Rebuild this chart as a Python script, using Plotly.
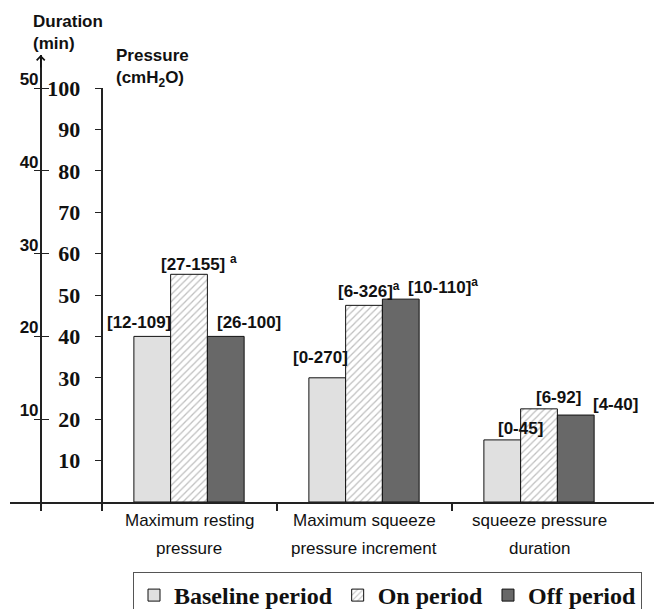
import plotly.graph_objects as go

# ---------------- data ----------------
cat_line1 = ["Maximum resting", "Maximum squeeze", "squeeze pressure"]
cat_line2 = ["pressure", "pressure increment", "duration"]
series_names = ["Baseline period", "On period", "Off period"]
baseline = [40, 30, 15]
on_period = [55, 47.5, 22.5]
off_period = [40, 49, 21]
baseline_ranges = ["[12-109]", "[0-270]", "[0-45]"]
on_ranges = ["[27-155] <sup>a</sup>", "[6-326]<sup>a</sup>", "[6-92]"]
off_ranges = ["[26-100]", "[10-110]<sup>a</sup>", "[4-40]"]
pressure_ticks = [10, 20, 30, 40, 50, 60, 70, 80, 90, 100]
duration_ticks = [10, 20, 30, 40, 50]

# ---------------- geometry / style ----------------
W, H = 654, 609
ML, MR, MT, MB = 10, 0, 55, 107
PW, PH = W - ML - MR, H - MT - MB
CAT0_PX, CAT_STEP = 189.0, 175.0
XR = [(ML - CAT0_PX) / CAT_STEP, (W - MR - CAT0_PX) / CAT_STEP]
DUR_X = (40.7 - CAT0_PX) / CAT_STEP
PRES_X = -0.5
PRES_H = 414.0
DUR_TOP = 50 * PH / PRES_H


def xpaper(v):
    return (v - XR[0]) / (XR[1] - XR[0])


BARGAP = 0.37
BW = (1 - BARGAP) / 3
SANS = "Liberation Sans, Arial, sans-serif"
SERIF = "Liberation Serif, Times New Roman, serif"
x_idx = list(range(len(cat_line1)))

fig = go.Figure()
fig.add_trace(go.Bar(name=series_names[0], x=x_idx, y=baseline, yaxis="y2",
                     marker=dict(color="#e0e0e0", line=dict(color="#111", width=1))))
fig.add_trace(go.Bar(name=series_names[1], x=x_idx, y=on_period, yaxis="y2",
                     marker=dict(color="white", line=dict(color="#111", width=1),
                                 pattern=dict(shape="/", fgcolor="#808080", bgcolor="white",
                                              size=5, solidity=0.25))))
fig.add_trace(go.Bar(name=series_names[2], x=x_idx, y=off_period, yaxis="y2",
                     marker=dict(color="#686868", line=dict(color="#111", width=1))))
# invisible carriers so the duration axes are drawn
fig.add_trace(go.Scatter(x=[DUR_X], y=[0], yaxis="y", mode="markers",
                         marker=dict(opacity=0, size=1), showlegend=False, hoverinfo="skip"))
fig.add_trace(go.Scatter(x=[DUR_X], y=[0], yaxis="y3", mode="markers",
                         marker=dict(opacity=0, size=1), showlegend=False, hoverinfo="skip"))

annotations = []
# bar range labels
label_sets = [baseline_ranges, on_ranges, off_ranges]
value_sets = [baseline, on_period, off_period]
xshifts = [[-13, -7, 18], [10, 5, 19], [23, 42, 40]]
yshifts = [[14, 20, 11], [11, 15, 11], [14, 13, 11]]
for s in range(3):
    for i in x_idx:
        annotations.append(dict(
            x=i + (s - 1) * BW, y=value_sets[s][i], xref="x", yref="y2",
            text=label_sets[s][i], showarrow=False, yanchor="middle",
            xshift=xshifts[s][i], yshift=yshifts[s][i],
            font=dict(family=SANS, size=17, color="#111", weight="bold")))
# category labels
for i in x_idx:
    annotations.append(dict(x=i, y=0, xref="x", yref="paper", text=cat_line1[i],
                            showarrow=False, yanchor="middle", yshift=-18,
                            font=dict(family=SANS, size=17, color="#111")))
    annotations.append(dict(x=i, y=0, xref="x", yref="paper", text=cat_line2[i],
                            showarrow=False, yanchor="middle", yshift=-46,
                            font=dict(family=SANS, size=17, color="#111")))
# axis titles
annotations.append(dict(x=(31 - ML) / PW, y=1, xref="paper", yref="paper",
                        text="Duration<br>(min)", showarrow=False, xanchor="left",
                        yanchor="top", yshift=MT - 10, align="left",
                        font=dict(family=SANS, size=17, color="#111", weight="bold")))
annotations.append(dict(x=(114 - ML) / PW, y=1, xref="paper", yref="paper",
                        text="Pressure<br>(cmH<sub>2</sub>O)", showarrow=False,
                        xanchor="left", yanchor="top", yshift=11, align="left",
                        font=dict(family=SANS, size=17, color="#111", weight="bold")))
# arrow on duration axis
annotations.append(dict(x=DUR_X, y=1, xref="x", yref="paper", text="", showarrow=True,
                        ax=0, ay=14, arrowhead=4, arrowsize=1.2, arrowwidth=1.3,
                        arrowcolor="#111", standoff=0))

fig.update_layout(
    width=W, height=H, margin=dict(l=ML, r=MR, t=MT, b=MB, autoexpand=False),
    paper_bgcolor="white", plot_bgcolor="rgba(0,0,0,0)",
    barmode="group", bargap=BARGAP, bargroupgap=0,
    showlegend=True,
    legend=dict(orientation="h", x=(133 - ML) / PW, y=(-(572 - (H - MB)) / PH),
                xanchor="left", yanchor="top", bgcolor="white", bordercolor="#555",
                borderwidth=1, font=dict(family=SERIF, size=24, color="#111", weight="bold"),
                itemclick=False),
    xaxis=dict(range=XR, showgrid=False, zeroline=False, showline=True,
               linecolor="#222", linewidth=1.5, anchor="y",
               tickvals=x_idx, ticks="", showticklabels=False,
               minor=dict(tickvals=[DUR_X, PRES_X, 0.5, 1.5], ticks="outside",
                          ticklen=7, tickwidth=1.5, tickcolor="#222", showgrid=False)),
    yaxis=dict(domain=[0, 1], range=[0, DUR_TOP], anchor="free",
               position=xpaper(DUR_X), showgrid=False, zeroline=False, showline=True,
               linecolor="#222", linewidth=1.5, tickvals=duration_ticks,
               ticks="outside", ticklen=6, tickwidth=1.2, tickcolor="#222",
               ticklabelshift=-9, ticklabelstandoff=-8,
               tickfont=dict(family=SANS, size=17, color="#111", weight="bold")),
    yaxis3=dict(overlaying="y", range=[0, DUR_TOP], anchor="free",
                position=xpaper(DUR_X), showgrid=False, zeroline=False, showline=False,
                tickvals=duration_ticks, ticks="inside", ticklen=7, tickwidth=1.2,
                tickcolor="#222", showticklabels=False),
    yaxis2=dict(domain=[0, PRES_H / PH], range=[0, 100], anchor="free",
                position=xpaper(PRES_X), showgrid=False, zeroline=False, showline=True,
                linecolor="#222", linewidth=1.5, tickvals=pressure_ticks,
                ticks="outside", ticklen=6, tickwidth=1.2, tickcolor="#222",
                ticklabelstandoff=10,
                tickfont=dict(family=SERIF, size=22, color="#111", weight="bold")),
    annotations=annotations,
)

fig.write_html("out.html", config={"displayModeBar": False},
               post_script="document.body.style.margin='0px';")
